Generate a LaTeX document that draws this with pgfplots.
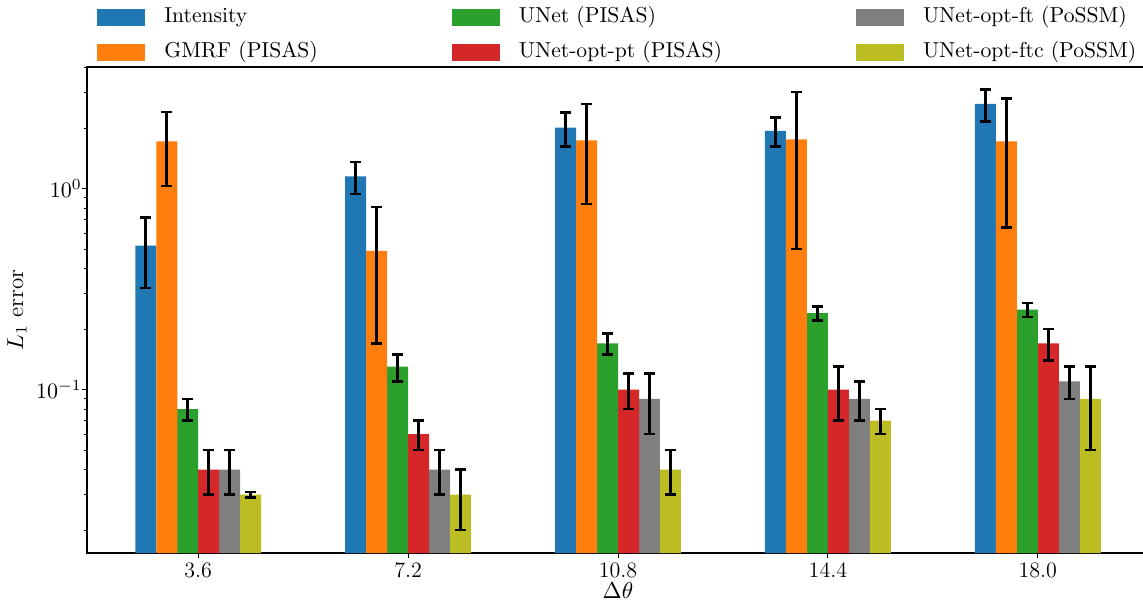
\RequirePackage{fix-cm}
\documentclass[border=0pt]{standalone}
\usepackage{fontspec}
\usepackage{pgfplots}
\pgfplotsset{compat=1.18}
\definecolor{cblue}{HTML}{1F77B4}
\definecolor{corange}{HTML}{FF7F0E}
\definecolor{cgreen}{HTML}{2CA02C}
\definecolor{cred}{HTML}{D62728}
\definecolor{cgray}{HTML}{7F7F7F}
\definecolor{colive}{HTML}{BCBD22}
\begin{document}
\begin{tikzpicture}
\begin{axis}[name=ax, at={(0,0)}, anchor=south west,
  width=531pt, height=243pt, scale only axis,
  ymode=log, log origin y=infty,
  ymin=0.01538, ymax=4.03, xmin=-0.53, xmax=4.53,
  ybar, bar width=10.5pt,
  xtick={0,1,2,3,4}, xticklabels={3.6,7.2,10.8,14.4,18.0},
  ytick={0.1,1},
  minor ytick={0.02,0.03,0.04,0.05,0.06,0.07,0.08,0.09,0.2,0.3,0.4,0.5,0.6,0.7,0.8,0.9,2,3,4},
  tick align=outside, xtick pos=left, ytick pos=left,
  major tick length=2.5pt, minor tick length=1.5pt,
  tick style={black, line width=0.5pt},
  axis line style={line width=0.6pt},
  ticklabel style={font=\fontsize{11}{13}\selectfont},
  xticklabel style={inner sep=0pt, anchor=north, yshift=-2pt},
  yticklabel style={inner sep=0pt, anchor=east, xshift=0pt},
  xlabel={$\Delta\theta$}, ylabel={$L_1$ error},
  label style={font=\fontsize{11.5}{13}\selectfont},
  xlabel style={at={(axis description cs:0.5,-0.0782)}, anchor=center},
  ylabel style={at={(axis description cs:-0.0659,0.5)}, anchor=center},
  legend columns=3,
  legend style={draw=none, fill=none, at={(0.0,1.0)}, anchor=south west,
    yshift=2pt, xshift=5pt, inner sep=0pt,
    font=\fontsize{10.8}{12}\selectfont,
    nodes={inner sep=0pt, text height=7.5pt, text depth=2.5pt},
    /tikz/row sep=7.5pt,
    /tikz/every even column/.append style={column sep=67pt},
    /tikz/every odd column/.append style={column sep=9.5pt}},
  legend cell align=left,
  legend image code/.code={\fill[#1] (0pt,-4.1pt) rectangle (24pt,4.1pt);},
  error bars/y dir=both, error bars/y explicit,
  error bars/error bar style={draw=black, line width=1.3pt},
  error bars/error mark options={draw=black, rotate=90, mark size=2.7pt, line width=1.3pt},
]
\addplot[fill=cblue, draw=none, bar shift=-26.24pt] coordinates {
 (0,0.52) +- (0,0.20) (1,1.15) +- (0,0.21) (2,2.01) +- (0,0.39) (3,1.94) +- (0,0.32) (4,2.64) +- (0,0.48)};
\addlegendentry{Intensity}
\addplot[fill=cgreen, draw=none, bar shift=-5.25pt] coordinates {
 (0,0.08) +- (0,0.01) (1,0.13) +- (0,0.02) (2,0.17) +- (0,0.02) (3,0.24) +- (0,0.02) (4,0.25) +- (0,0.02)};
\addlegendentry{UNet (PISAS)}
\addplot[fill=cgray, draw=none, bar shift=15.74pt] coordinates {
 (0,0.04) +- (0,0.01) (1,0.04) +- (0,0.01) (2,0.09) +- (0,0.03) (3,0.09) +- (0,0.02) (4,0.11) +- (0,0.02)};
\addlegendentry{UNet-opt-ft (PoSSM)}
\addplot[fill=corange, draw=none, bar shift=-15.74pt] coordinates {
 (0,1.72) +- (0,0.69) (1,0.49) +- (0,0.32) (2,1.74) +- (0,0.90) (3,1.76) +- (0,1.26) (4,1.72) +- (0,1.08)};
\addlegendentry{GMRF (PISAS)}
\addplot[fill=cred, draw=none, bar shift=5.25pt] coordinates {
 (0,0.04) +- (0,0.01) (1,0.06) +- (0,0.01) (2,0.10) +- (0,0.02) (3,0.10) +- (0,0.03) (4,0.17) +- (0,0.03)};
\addlegendentry{UNet-opt-pt (PISAS)}
\addplot[fill=colive, draw=none, bar shift=26.24pt] coordinates {
 (0,0.03) +- (0,0.001) (1,0.03) +- (0,0.01) (2,0.04) +- (0,0.01) (3,0.07) +- (0,0.01) (4,0.09) +- (0,0.04)};
\addlegendentry{UNet-opt-ftc (PoSSM)}
\end{axis}
\pgfresetboundingbox
\useasboundingbox (-43.5pt,-25.5pt) rectangle (528pt,276.5pt);
\end{tikzpicture}
\end{document}
